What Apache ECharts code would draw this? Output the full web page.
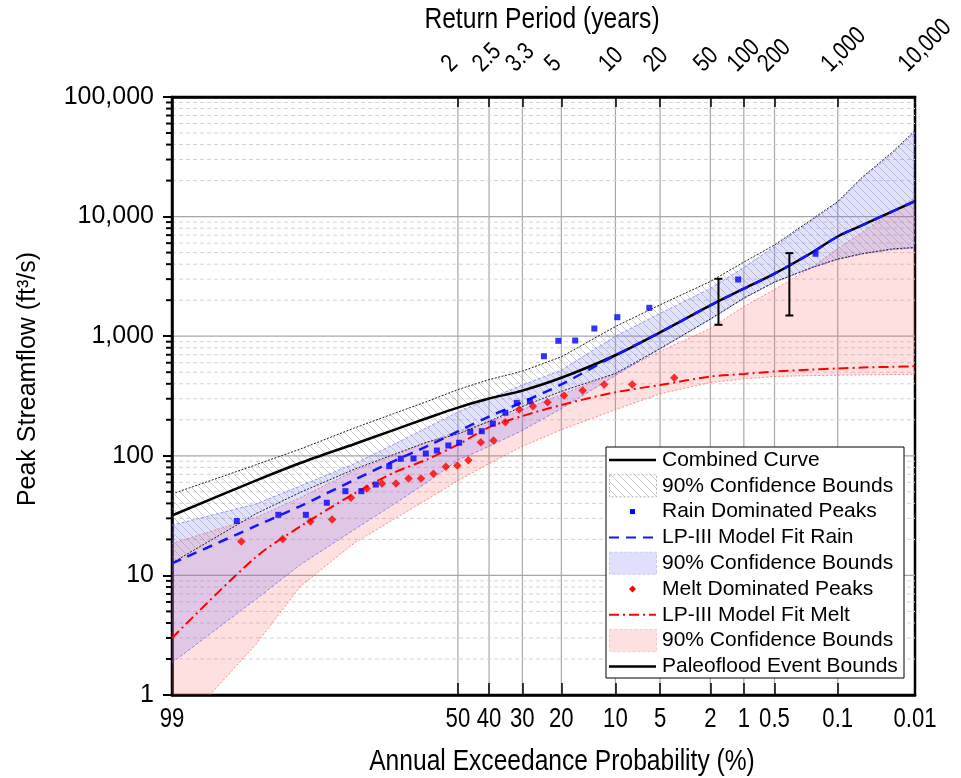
<!DOCTYPE html>
<html>
<head>
<meta charset="utf-8">
<script src="https://cdn.jsdelivr.net/npm/echarts@6/dist/echarts.min.js"></script>
<style>
  html, body { margin: 0; padding: 0; background: #fff; }
  #chart { width: 961px; height: 778px; }
</style>
</head>
<body>
<div id="chart"></div>
<script>
// ---- Frequency curves, tabulated at these annual exceedance probabilities (%) ----
const curveAep      = [99, 95, 90, 80, 70, 60, 50, 40, 30, 20, 10, 5, 2, 1, 0.5, 0.2, 0.1, 0.05, 0.02, 0.01];
const combinedCurve = [31.7, 62, 87, 125.6, 164, 206, 253, 301, 351, 449, 693, 1076, 1812, 2495, 3333, 4990, 6820, 8470, 11100, 13450];
const combinedUpper = [48, 84, 114, 171, 225, 284, 358, 434, 510, 673, 1205, 1830, 2866, 4170, 5790, 9460, 13360, 21400, 35000, 52400];
const combinedLower = [12.7, 32.7, 49.5, 77.3, 102.5, 130, 152, 194, 258, 346, 488, 789, 1393, 2085, 2840, 3752, 4414, 4910, 5380, 5520];
const rainFit       = [12.6, 25.9, 38, 63, 90, 120, 160, 213, 281, 395, 693, 1076, 1812, 2495, 3333, 4990, 6820, 8470, 11100, 13450];
const rainUpper     = [26.3, 39.5, 56, 86, 124, 172, 232, 300, 390, 520, 1000, 1550, 2505, 3750, 5620, 9270, 13100, 21000, 34000, 51000];
const rainLower     = [1.86, 6.3, 12.3, 24.2, 39.2, 59.8, 92, 120, 163, 248, 470, 780, 1380, 2060, 2820, 3720, 4380, 4860, 5300, 5460];
const meltFit       = [3.0, 14.2, 25.7, 48.4, 72, 93, 124, 173, 215, 266, 340, 391, 460, 483, 507, 526, 537, 547, 555, 561];
const meltUpper     = [18.5, 30.5, 44.8, 75, 100, 129, 160, 193, 243, 325, 488, 745, 1160, 1770, 2460, 3750, 5400, 7400, 11100, 14360];
const meltLower     = [0.45, 2.64, 8.1, 18.7, 29.3, 43, 62, 86, 120, 165, 243, 330, 410, 440, 460, 468, 472, 475, 478, 480];

// ---- Observed annual peaks (plotting position AEP %, peak ft3/s) ----
const rainAep  = [96.4, 92.8, 89.2, 85.7, 82.0, 78.4, 74.8, 71.2, 67.9, 64.1, 60.3, 56.8, 53.1, 49.6, 46.0, 42.3, 38.8, 35.0, 31.6, 27.9, 24.2, 20.7, 17.0, 13.35, 9.73, 5.97, 1.13, 0.181];
const rainPeak = [28.5, 32.1, 32.1, 40.5, 50.6, 50.6, 57.5, 81.9, 94.4, 94.9, 104.5, 110.7, 122, 128.5, 158.6, 160.6, 186, 229, 277, 286, 680, 915, 920, 1160, 1442, 1728, 2980, 4890];
const meltAep  = [96.1, 92.3, 88.5, 84.7, 80.8, 77.1, 73.2, 69.3, 65.6, 61.8, 57.9, 53.9, 50.2, 46.6, 42.6, 38.6, 35.0, 30.9, 27.1, 23.3, 19.4, 15.5, 11.7, 7.8, 3.92];
const meltPeak = [19.2, 20.2, 28.2, 29.3, 44.6, 53.3, 58.7, 58.7, 64.6, 64.6, 70.7, 80.9, 83, 91.9, 130, 134, 191, 244, 260, 281, 319, 352, 395, 395, 449];

// ---- Paleoflood event bounds ----
const paleoAep  = [1.7, 0.35];
const paleoLow  = [1245, 1490];
const paleoHigh = [3020, 4950];

// ---- Axis ticks ----
const aepTicks      = [99, 50, 40, 30, 20, 10, 5, 2, 1, 0.5, 0.1, 0.01];
const aepTickLabels = ['99', '50', '40', '30', '20', '10', '5', '2', '1', '0.5', '0.1', '0.01'];
const rpTickAep     = [50, 40, 30, 20, 10, 5, 2, 1, 0.5, 0.1, 0.01];
const rpTickLabels  = ['2', '2.5', '3.3', '5', '10', '20', '50', '100', '200', '1,000', '10,000'];
const yMinor        = [2, 3, 4, 5, 6, 7, 8, 9];

// Inverse standard normal CDF (Acklam) — maps AEP to the probability-paper coordinate
function invNorm(p) {
  const a = [-3.969683028665376e+01, 2.209460984245205e+02, -2.759285104469687e+02, 1.383577518672690e+02, -3.066479806614716e+01, 2.506628277459239e+00];
  const b = [-5.447609879822406e+01, 1.615858368580409e+02, -1.556989798598866e+02, 6.680131188771972e+01, -1.328068155288572e+01];
  const c = [-7.784894002430293e-03, -3.223964580411365e-01, -2.400758277161838e+00, -2.549732539343734e+00, 4.374664141464968e+00, 2.938163982698783e+00];
  const d = [7.784695709041462e-03, 3.224671290700398e-01, 2.445134137142996e+00, 3.754408661907416e+00];
  const pl = 0.02425, ph = 1 - pl;
  let q, r;
  if (p < pl) {
    q = Math.sqrt(-2 * Math.log(p));
    return (((((c[0]*q+c[1])*q+c[2])*q+c[3])*q+c[4])*q+c[5]) / ((((d[0]*q+d[1])*q+d[2])*q+d[3])*q+1);
  }
  if (p <= ph) {
    q = p - 0.5; r = q * q;
    return (((((a[0]*r+a[1])*r+a[2])*r+a[3])*r+a[4])*r+a[5])*q / (((((b[0]*r+b[1])*r+b[2])*r+b[3])*r+b[4])*r+1);
  }
  q = Math.sqrt(-2 * Math.log(1 - p));
  return -(((((c[0]*q+c[1])*q+c[2])*q+c[3])*q+c[4])*q+c[5]) / ((((d[0]*q+d[1])*q+d[2])*q+d[3])*q+1);
}
const zOf = aep => invNorm(1 - aep / 100);

const X_MIN = zOf(99), X_MAX = zOf(0.01);
const Y_MIN = 1, Y_MAX = 100000;

const FONT = "'Liberation Sans', Arial, sans-serif";
const NARROW_SCALE = 0.82;   // condensed look for the probability-axis texts

function hatchCanvas() {
  const s = 8;
  const cv = document.createElement('canvas');
  cv.width = s; cv.height = s;
  const g = cv.getContext('2d');
  g.strokeStyle = 'rgba(150,150,150,0.55)';
  g.lineWidth = 0.9;
  g.beginPath();
  for (const k of [-s, 0, s]) { g.moveTo(k, 0); g.lineTo(k + s, s); }
  g.stroke();
  return cv;
}
const hatch = { image: hatchCanvas(), repeat: 'repeat' };

function pairs(xs, ys) { return xs.map((a, i) => [zOf(a), ys[i]]); }

function clipRect(cs) {
  return { type: 'rect', shape: { x: cs.x, y: cs.y, width: cs.width, height: cs.height } };
}

// Shaded confidence band between an upper and a lower curve
function bandSeries(upper, lower, fill, stroke, dash, z) {
  return {
    type: 'custom', z: z, silent: true, coordinateSystem: 'cartesian2d',
    data: [[zOf(50), 100]],
    renderItem(params, api) {
      const up = curveAep.map((a, i) => api.coord([zOf(a), upper[i]]));
      const lo = curveAep.map((a, i) => api.coord([zOf(a), lower[i]]));
      return {
        type: 'group',
        clipPath: clipRect(params.coordSys),
        children: [
          { type: 'polygon', shape: { points: up.concat(lo.slice().reverse()) }, style: { fill: fill, stroke: null } },
          { type: 'polyline', shape: { points: up }, style: { fill: null, stroke: stroke, lineWidth: 1, lineDash: dash } },
          { type: 'polyline', shape: { points: lo }, style: { fill: null, stroke: stroke, lineWidth: 1, lineDash: dash } }
        ]
      };
    }
  };
}

// Grid lines and minor y ticks drawn through the axis scales
const gridSeries = {
  type: 'custom', z: 0, silent: true, coordinateSystem: 'cartesian2d',
  data: [[zOf(50), 100]],
  renderItem(params, api) {
    const ch = [];
    aepTicks.slice(1, -1).forEach(a => {
      const p1 = api.coord([zOf(a), Y_MIN]), p2 = api.coord([zOf(a), Y_MAX]);
      ch.push({ type: 'line', shape: { x1: p1[0], y1: p1[1], x2: p2[0], y2: p2[1] }, style: { stroke: '#a8a8a8', lineWidth: 1.2 } });
    });
    for (let dec = 1; dec < Y_MAX; dec *= 10) {
      if (dec > 1) {
        const p1 = api.coord([X_MIN, dec]), p2 = api.coord([X_MAX, dec]);
        ch.push({ type: 'line', shape: { x1: p1[0], y1: p1[1], x2: p2[0], y2: p2[1] }, style: { stroke: '#a8a8a8', lineWidth: 1.2 } });
      }
      yMinor.forEach(m => {
        const v = m * dec;
        const p1 = api.coord([X_MIN, v]), p2 = api.coord([X_MAX, v]);
        ch.push({ type: 'line', shape: { x1: p1[0], y1: p1[1], x2: p2[0], y2: p2[1] }, style: { stroke: '#d4d4d4', lineWidth: 1, lineDash: [4, 3] } });
        ch.push({ type: 'line', shape: { x1: p1[0] - 6, y1: p1[1], x2: p1[0], y2: p1[1] }, style: { stroke: '#000', lineWidth: 2 } });
      });
    }
    return { type: 'group', children: ch };
  }
};

// Probability and return-period tick labels, placed through the x scale
const tickLabelSeries = {
  type: 'custom', z: 10, silent: true, coordinateSystem: 'cartesian2d', clip: false,
  data: [[zOf(50), 100]],
  renderItem(params, api) {
    const ch = [];
    aepTicks.forEach((a, i) => {
      const p = api.coord([zOf(a), Y_MIN]);
      ch.push({ type: 'text', x: p[0], y: p[1] + 11, scaleX: NARROW_SCALE,
        style: { text: aepTickLabels[i], font: '27px ' + FONT, fill: '#000', align: 'center', verticalAlign: 'top' } });
    });
    rpTickAep.forEach((a, i) => {
      const p = api.coord([zOf(a), Y_MAX]);
      ch.push({ type: 'text', x: p[0] - 12, y: p[1] - 29, rotation: Math.PI / 4, scaleX: NARROW_SCALE,
        style: { text: rpTickLabels[i], font: '25px ' + FONT, fill: '#000', align: 'left', verticalAlign: 'middle' } });
    });
    return { type: 'group', children: ch };
  }
};

// Paleoflood event bounds as capped vertical bars
const paleoSeries = {
  type: 'custom', z: 7, silent: true, coordinateSystem: 'cartesian2d',
  data: paleoAep.map((a, i) => [zOf(a), paleoLow[i], paleoHigh[i]]),
  encode: { x: 0, y: [1, 2] },
  renderItem(params, api) {
    const lo = api.coord([api.value(0), api.value(1)]);
    const hi = api.coord([api.value(0), api.value(2)]);
    const w = 8;
    const st = { stroke: '#000', lineWidth: 2 };
    return {
      type: 'group', children: [
        { type: 'line', shape: { x1: lo[0], y1: lo[1], x2: hi[0], y2: hi[1] }, style: st },
        { type: 'line', shape: { x1: lo[0] - w / 2, y1: lo[1], x2: lo[0] + w / 2, y2: lo[1] }, style: st },
        { type: 'line', shape: { x1: hi[0] - w / 2, y1: hi[1], x2: hi[0] + w / 2, y2: hi[1] }, style: st }
      ]
    };
  }
};

// ---- Legend (drawn as graphics) ----
const LX = 606, LY = 447, LW = 298, LH = 231, ROW = 25.8, SX1 = 609, SX2 = 656, TX = 662;
const legendRows = [
  { text: 'Combined Curve', kind: 'line', color: '#000', dash: null, width: 2.5 },
  { text: '90% Confidence Bounds', kind: 'box', fill: hatch, stroke: '#b0b0b0', dash: [2, 2] },
  { text: 'Rain Dominated Peaks', kind: 'square', color: '#0000ff' },
  { text: 'LP-III Model Fit Rain', kind: 'line', color: '#1414ff', dash: [10, 7], width: 2 },
  { text: '90% Confidence Bounds', kind: 'box', fill: '#e0e0fc', stroke: '#c8c8f4', dash: [3, 2] },
  { text: 'Melt Dominated Peaks', kind: 'diamond', color: '#ff0000' },
  { text: 'LP-III Model Fit Melt', kind: 'line', color: '#ff0000', dash: [10, 4, 2, 4], width: 2 },
  { text: '90% Confidence Bounds', kind: 'box', fill: '#fde0e0', stroke: '#f6c8c8', dash: [3, 2] },
  { text: 'Paleoflood Event Bounds', kind: 'line', color: '#000', dash: null, width: 2.5 }
];
const legendGraphics = [{
  type: 'rect', z: 100, shape: { x: LX, y: LY, width: LW, height: LH },
  style: { fill: '#fff', stroke: '#000', lineWidth: 1 }
}];
legendRows.forEach((r, i) => {
  const cy = LY + 13 + i * ROW;
  if (r.kind === 'line') {
    legendGraphics.push({ type: 'line', z: 101, shape: { x1: SX1, y1: cy, x2: SX2, y2: cy }, style: { stroke: r.color, lineWidth: r.width, lineDash: r.dash } });
  } else if (r.kind === 'box') {
    legendGraphics.push({ type: 'rect', z: 101, shape: { x: SX1 + 0.5, y: cy - 11, width: SX2 - SX1, height: 22 }, style: { fill: r.fill, stroke: r.stroke, lineWidth: 1, lineDash: r.dash } });
  } else if (r.kind === 'square') {
    legendGraphics.push({ type: 'rect', z: 101, shape: { x: (SX1 + SX2) / 2 - 2.5, y: cy - 2.5, width: 5, height: 5 }, style: { fill: r.color } });
  } else if (r.kind === 'diamond') {
    const cx = (SX1 + SX2) / 2;
    legendGraphics.push({ type: 'polygon', z: 101, shape: { points: [[cx, cy - 3.5], [cx + 3.5, cy], [cx, cy + 3.5], [cx - 3.5, cy]] }, style: { fill: r.color } });
  }
  legendGraphics.push({ type: 'text', z: 101, x: TX, y: cy, style: { text: r.text, font: '21px ' + FONT, fill: '#000', verticalAlign: 'middle', align: 'left' } });
});

const titleGraphics = [
  { type: 'text', x: 562, y: 762, scaleX: NARROW_SCALE, style: { text: 'Annual Exceedance Probability (%)', font: '30px ' + FONT, fill: '#000', align: 'center', verticalAlign: 'middle' } },
  { type: 'text', x: 542, y: 20, scaleX: NARROW_SCALE, style: { text: 'Return Period (years)', font: '30px ' + FONT, fill: '#000', align: 'center', verticalAlign: 'middle' } },
  { type: 'text', x: 28, y: 379, rotation: Math.PI / 2, style: { text: 'Peak Streamflow (ft³/s)', font: '25px ' + FONT, fill: '#000', align: 'center', verticalAlign: 'middle' } }
];

const chart = echarts.init(document.getElementById('chart'), null, { renderer: 'canvas' });
chart.setOption({
  animation: false,
  backgroundColor: '#fff',
  grid: {
    left: 172, right: 46, top: 97, bottom: 83,
    containLabel: false, outerBoundsMode: 'none',
    show: true, borderColor: '#000', borderWidth: 2.5, backgroundColor: 'transparent'
  },
  xAxis: [
    {
      type: 'value', position: 'bottom', min: X_MIN, max: X_MAX,
      axisLine: { onZero: false, lineStyle: { color: '#000', width: 2.5 } },
      axisTick: { show: true, inside: true, length: 12, customValues: aepTicks.map(zOf), lineStyle: { color: '#000', width: 1.5 } },
      axisLabel: { show: false },
      splitLine: { show: false }
    },
    {
      type: 'value', position: 'top', min: X_MIN, max: X_MAX,
      axisLine: { onZero: false, lineStyle: { color: '#000', width: 2.5 } },
      axisTick: { show: true, inside: true, length: 10, customValues: rpTickAep.map(zOf), lineStyle: { color: '#000', width: 1.5 } },
      axisLabel: { show: false },
      splitLine: { show: false }
    }
  ],
  yAxis: {
    type: 'log', logBase: 10, min: Y_MIN, max: Y_MAX,
    axisLine: { show: true, onZero: false, lineStyle: { color: '#000', width: 2.5 } },
    axisTick: { show: true, inside: false, length: 9, lineStyle: { color: '#000', width: 2 } },
    axisLabel: { formatter: v => Number(v).toLocaleString('en-US'), margin: 18, color: '#000', fontFamily: FONT, fontSize: 25 },
    splitLine: { show: false },
    minorTick: { show: false }
  },
  graphic: titleGraphics.concat(legendGraphics),
  series: [
    gridSeries,
    bandSeries(meltUpper, meltLower, 'rgba(255,100,100,0.2)', 'rgba(255,90,90,0.7)', [2, 2], 1),
    bandSeries(rainUpper, rainLower, 'rgba(100,100,255,0.2)', 'rgba(80,80,255,0.6)', [3, 2], 2),
    bandSeries(combinedUpper, combinedLower, hatch, '#222', [2, 1.5], 3),
    {
      name: 'Combined Curve', type: 'line', z: 4, silent: true, showSymbol: false, smooth: 0.3,
      data: pairs(curveAep, combinedCurve), lineStyle: { color: '#000', width: 2.5 }
    },
    {
      name: 'LP-III Model Fit Rain', type: 'line', z: 5, silent: true, showSymbol: false, smooth: 0.3,
      data: pairs(curveAep, rainFit), lineStyle: { color: '#1414ff', width: 2.5, type: [10, 7] }
    },
    {
      name: 'LP-III Model Fit Melt', type: 'line', z: 5, silent: true, showSymbol: false, smooth: 0.3,
      data: pairs(curveAep, meltFit), lineStyle: { color: '#ff0000', width: 2, type: [10, 4, 2, 4] }
    },
    {
      name: 'Rain Dominated Peaks', type: 'scatter', z: 6, silent: true, symbol: 'rect', symbolSize: 6,
      data: pairs(rainAep, rainPeak), itemStyle: { color: '#0000ff' }
    },
    {
      name: 'Melt Dominated Peaks', type: 'scatter', z: 6, silent: true, symbol: 'diamond', symbolSize: 8.5,
      data: pairs(meltAep, meltPeak), itemStyle: { color: '#ff0000' }
    },
    paleoSeries,
    tickLabelSeries
  ]
});
</script>
</body>
</html>
